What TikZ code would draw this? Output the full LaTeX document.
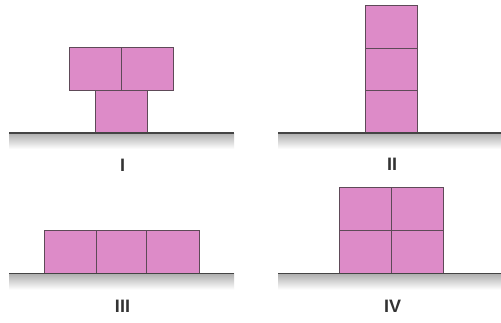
\documentclass[tikz,border=0pt]{standalone}
\usepackage{fontspec}
\setmainfont{Liberation Sans}
\definecolor{blockpink}{HTML}{DD8BC8}
\definecolor{blockedge}{HTML}{5E4A58}
\definecolor{groundline}{HTML}{444444}
\begin{document}
\begin{tikzpicture}[x=1pt,y=-1pt,
  blk/.style={fill=blockpink,draw=blockedge,line width=0.9pt},
  grd/.style={top color=black!32,bottom color=white,draw=none},
  gline/.style={draw=groundline,line width=1.6pt},
  lbl/.style={font=\fontsize{18}{18}\selectfont\bfseries,text=black!80,inner sep=0pt}]
\useasboundingbox (0,0) rectangle (501,322);
\fill[white] (0,0) rectangle (501,322);
% ground shading
\shade[grd] (9,133) rectangle (234,149);
\shade[grd] (278,133) rectangle (501,149);
\shade[grd] (9,273.5) rectangle (234,289.5);
\shade[grd] (278,273.5) rectangle (501,289.5);
% Panel I
\draw[blk] (69.5,47.5) rectangle (121.5,90.5);
\draw[blk] (121.5,47.5) rectangle (173.5,90.5);
\draw[blk] (95.5,90.5) rectangle (147.5,133);
% Panel II
\draw[blk] (365,5) rectangle (417,48);
\draw[blk] (365,48) rectangle (417,90.5);
\draw[blk] (365,90.5) rectangle (417,133);
% Panel III
\draw[blk] (44.5,230.5) rectangle (96.5,273.5);
\draw[blk] (96.5,230.5) rectangle (146.5,273.5);
\draw[blk] (146.5,230.5) rectangle (199.5,273.5);
% Panel IV
\draw[blk] (339,187.5) rectangle (391.5,230.5);
\draw[blk] (391.5,187.5) rectangle (443.5,230.5);
\draw[blk] (339,230.5) rectangle (391.5,273.5);
\draw[blk] (391.5,230.5) rectangle (443.5,273.5);
% ground lines
\draw[gline] (9,133) -- (234,133);
\draw[gline] (278,133) -- (501,133);
\draw[gline] (9,273.5) -- (234,273.5);
\draw[gline] (278,273.5) -- (501,273.5);
% labels
\node[lbl] (l1) at (122.5,165) {I};
\node[lbl] (l2) at (392,164) {II};
\node[lbl] (l3) at (122.5,306) {III};
\node[lbl] (l4) at (392.5,306) {IV};
\end{tikzpicture}
\end{document}
